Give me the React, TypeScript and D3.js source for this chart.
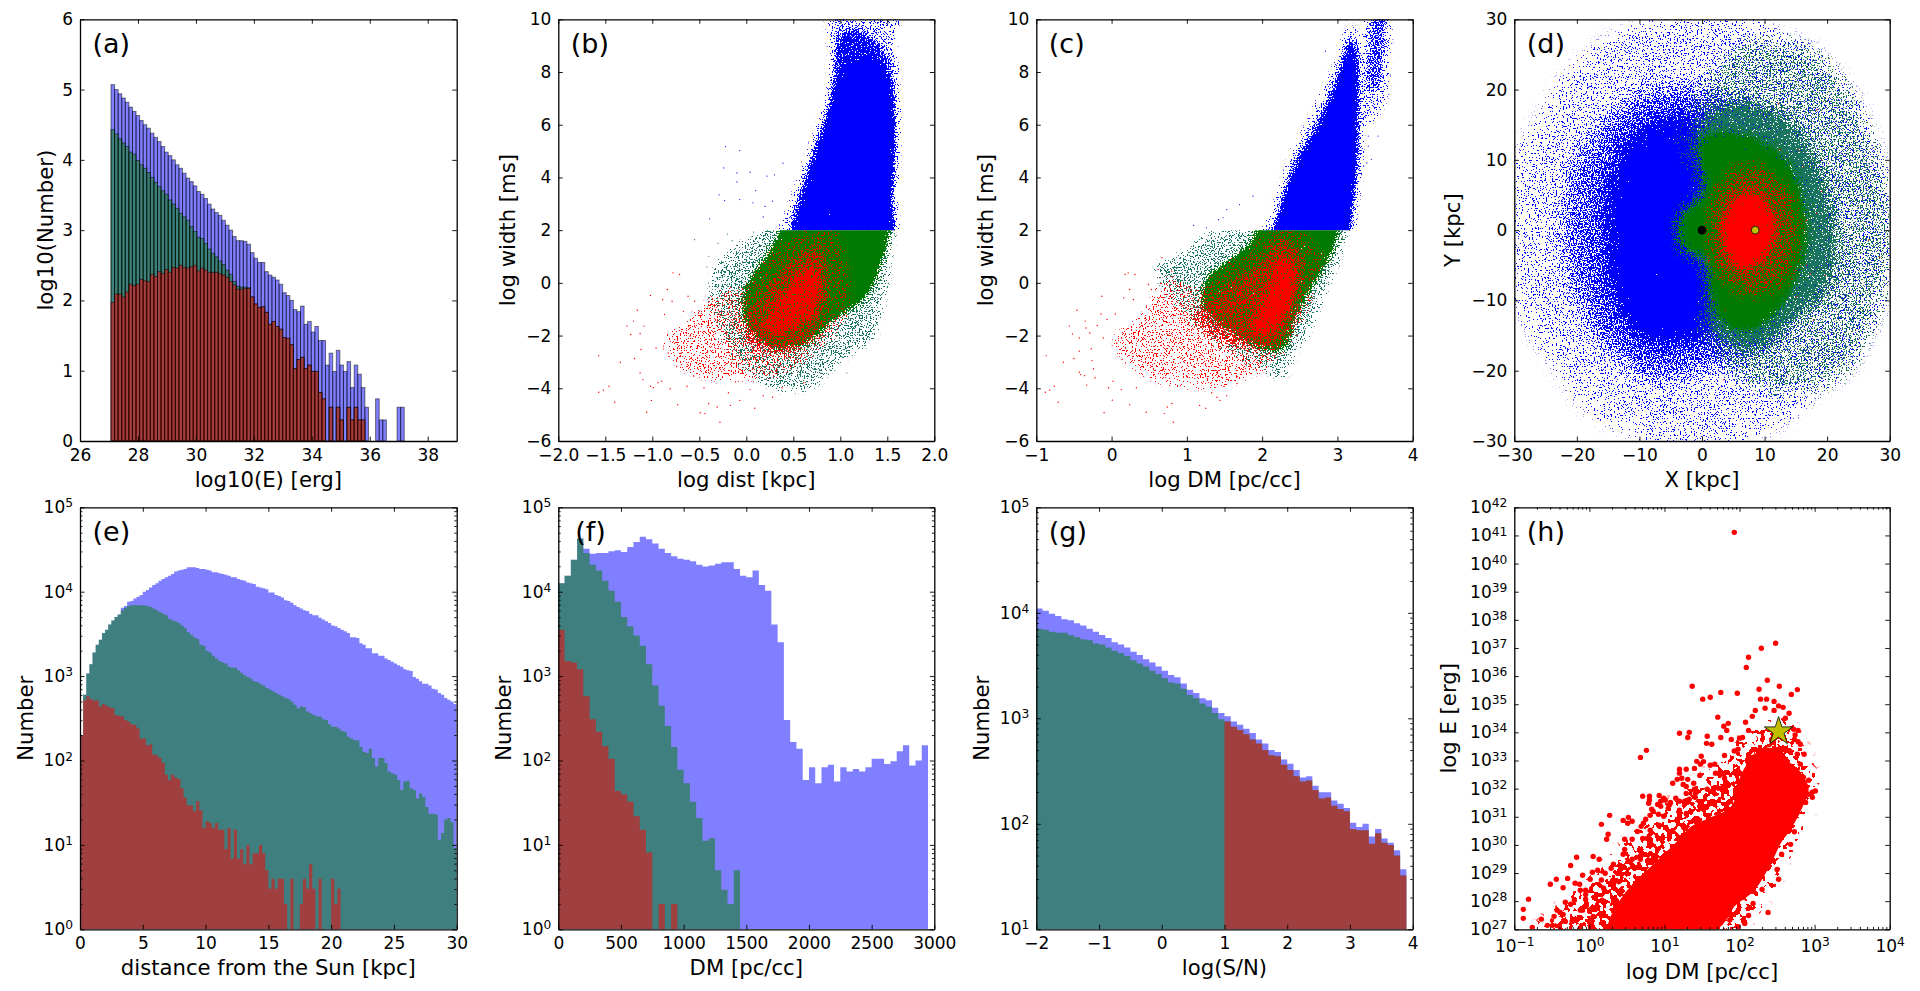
import React, { useEffect, useRef } from 'react';
import * as d3 from 'd3';

// ---- (a) log10(E) histogram, heights are log10(count)
const aStart = 27.07;
const aBin = 0.1234;
const aBlue = [5.07, 5.0, 4.94, 4.88, 4.82, 4.75, 4.69, 4.63, 4.56, 4.5, 4.45, 4.38, 4.32, 4.26, 4.19, 4.11, 4.06, 4.0, 3.93, 3.88, 3.81, 3.74, 3.69, 3.63, 3.55, 3.51, 3.45, 3.37, 3.3, 3.25, 3.21, 3.14, 3.07, 3.0, 2.91, 2.85, 2.85, 2.84, 2.8, 2.68, 2.6, 2.54, 2.54, 2.41, 2.36, 2.33, 2.29, 2.23, 2.11, 2.07, 2.0, 1.87, 1.84, 1.92, 1.66, 1.7, 1.55, 1.63, 1.43, 1.43, 1.08, 1.25, 0.99, 1.29, 1.08, 0.99, 1.13, 0.76, 1.08, 0.95, 0.76, 0.48, 0, 0, 0.6, 0.3, 0.3, 0, 0, 0, 0.48, 0.48];
const aGreen = [4.43, 4.37, 4.3, 4.24, 4.19, 4.11, 4.08, 3.99, 3.93, 3.88, 3.82, 3.75, 3.68, 3.62, 3.56, 3.51, 3.43, 3.37, 3.31, 3.24, 3.19, 3.14, 3.05, 2.98, 2.9, 2.88, 2.81, 2.73, 2.67, 2.62, 2.56, 2.51, 2.43, 2.37, 2.27, 2.2, 2.19, 2.19, 2.18];
const aRed = [1.97, 2.09, 2.09, 2.05, 2.12, 2.23, 2.21, 2.23, 2.3, 2.28, 2.27, 2.37, 2.34, 2.41, 2.38, 2.44, 2.4, 2.47, 2.46, 2.5, 2.47, 2.46, 2.48, 2.5, 2.42, 2.46, 2.43, 2.4, 2.4, 2.4, 2.38, 2.36, 2.33, 2.27, 2.22, 2.16, 2.16, 2.17, 2.17, 2.05, 1.95, 1.9, 1.91, 1.83, 1.66, 1.7, 1.63, 1.59, 1.47, 1.46, 1.37, 1.03, 1.16, 1.19, 1.03, 1.08, 0.99, 0.99, 0.69, 0.6, 0, 0.48, 0, 0.48, 0.3, 0, 0.48, 0.3, 0.48, 0.3, 0.3];

// ---- (e) distance histogram, log10(count)
const eBin = 0.25;
const eBlue = [2.3, 2.78, 3.03, 3.14, 3.28, 3.37, 3.43, 3.51, 3.55, 3.61, 3.66, 3.7, 3.73, 3.81, 3.83, 3.88, 3.89, 3.92, 3.94, 3.96, 4.0, 4.02, 4.05, 4.08, 4.1, 4.13, 4.15, 4.17, 4.19, 4.21, 4.24, 4.25, 4.26, 4.27, 4.29, 4.29, 4.29, 4.28, 4.27, 4.27, 4.26, 4.25, 4.23, 4.23, 4.22, 4.21, 4.2, 4.19, 4.17, 4.17, 4.15, 4.14, 4.13, 4.11, 4.1, 4.09, 4.06, 4.05, 4.04, 4.03, 3.99, 3.99, 3.96, 3.95, 3.93, 3.9, 3.89, 3.87, 3.84, 3.82, 3.8, 3.78, 3.77, 3.74, 3.72, 3.72, 3.69, 3.67, 3.65, 3.63, 3.6, 3.59, 3.57, 3.55, 3.53, 3.51, 3.46, 3.46, 3.45, 3.39, 3.37, 3.33, 3.33, 3.27, 3.27, 3.24, 3.24, 3.21, 3.19, 3.17, 3.15, 3.13, 3.11, 3.08, 3.07, 3.06, 2.99, 2.97, 2.94, 2.91, 2.91, 2.89, 2.85, 2.84, 2.8, 2.78, 2.74, 2.72, 2.7, 2.67];
const eGreen = [2.3, 2.78, 3.03, 3.14, 3.28, 3.37, 3.43, 3.51, 3.55, 3.61, 3.66, 3.7, 3.73, 3.78, 3.81, 3.83, 3.84, 3.84, 3.84, 3.84, 3.84, 3.83, 3.82, 3.8, 3.78, 3.76, 3.74, 3.72, 3.68, 3.66, 3.65, 3.63, 3.6, 3.57, 3.52, 3.49, 3.46, 3.44, 3.37, 3.36, 3.3, 3.28, 3.24, 3.21, 3.18, 3.16, 3.15, 3.11, 3.1, 3.1, 3.07, 3.04, 3.01, 2.99, 2.97, 2.94, 2.93, 2.91, 2.89, 2.86, 2.84, 2.82, 2.8, 2.78, 2.76, 2.74, 2.73, 2.7, 2.66, 2.62, 2.64, 2.63, 2.58, 2.56, 2.54, 2.52, 2.52, 2.49, 2.48, 2.43, 2.4, 2.4, 2.38, 2.35, 2.34, 2.28, 2.26, 2.24, 2.24, 2.16, 2.1, 2.09, 2.14, 2.03, 1.93, 2.03, 2.03, 1.97, 1.87, 1.85, 1.83, 1.77, 1.65, 1.75, 1.76, 1.67, 1.65, 1.55, 1.61, 1.57, 1.45, 1.37, 1.37, 1.36, 1.06, 1.14, 1.3, 1.32, 1.27, 0.96];
const eRed = [2.3, 2.71, 2.76, 2.73, 2.71, 2.71, 2.64, 2.67, 2.65, 2.63, 2.62, 2.54, 2.53, 2.52, 2.48, 2.46, 2.43, 2.42, 2.38, 2.26, 2.26, 2.18, 2.19, 2.07, 2.06, 2.03, 1.97, 1.83, 1.77, 1.83, 1.8, 1.78, 1.67, 1.56, 1.47, 1.47, 1.4, 1.52, 1.41, 1.2, 1.28, 1.26, 1.2, 1.26, 1.18, 1.18, 0.95, 1.2, 0.84, 1.18, 0.84, 0.95, 0.77, 1.0, 0.77, 0.9, 0.9, 1.0, 0.9, 0.7, 0.48, 0.6, 0.48, 0.6, 0.6, 0.3, 0, 0.6, 0, 0, 0.3, 0.6, 0.48, 0.77, 0.48, 0, 0.6, 0, 0, 0, 0.6, 0.3, 0.48];

// ---- (f) DM histogram, log10(count)
const fBin = 50;
const fBlue = [4.1, 4.19, 4.38, 4.63, 4.51, 4.45, 4.46, 4.46, 4.48, 4.49, 4.47, 4.53, 4.59, 4.65, 4.62, 4.57, 4.51, 4.46, 4.42, 4.39, 4.38, 4.36, 4.32, 4.3, 4.31, 4.33, 4.35, 4.35, 4.27, 4.19, 4.17, 4.25, 4.08, 4.01, 3.61, 3.4, 2.48, 2.22, 2.14, 1.77, 1.92, 1.73, 1.92, 1.95, 1.75, 1.92, 1.87, 1.9, 1.87, 1.92, 2.02, 2.02, 1.96, 1.99, 2.11, 2.18, 1.94, 2.0, 2.18];
const fGreen = [4.1, 4.19, 4.38, 4.63, 4.46, 4.32, 4.25, 4.13, 4.01, 3.88, 3.7, 3.59, 3.48, 3.36, 3.14, 2.89, 2.65, 2.41, 2.16, 1.89, 1.73, 1.51, 1.32, 1.05, 1.08, 0.7, 0.47, 0.3, 0.7];
const fRed = [3.55, 3.18, 3.16, 3.08, 2.76, 2.49, 2.34, 2.17, 2.02, 1.64, 1.6, 1.51, 1.34, 1.18, 0.91, 0, 0.3, 0, 0.3];

// ---- (g) S/N histogram, log10(count)
const gBin = 0.1;
const gBlue = [4.04, 4.02, 3.99, 3.97, 3.94, 3.93, 3.9, 3.88, 3.85, 3.82, 3.79, 3.76, 3.72, 3.7, 3.67, 3.63, 3.6, 3.56, 3.53, 3.49, 3.45, 3.41, 3.39, 3.33, 3.27, 3.24, 3.19, 3.17, 3.1, 3.05, 3.02, 2.97, 2.94, 2.9, 2.86, 2.8, 2.76, 2.7, 2.68, 2.61, 2.57, 2.51, 2.44, 2.45, 2.36, 2.3, 2.3, 2.22, 2.19, 2.15, 2.01, 1.97, 2.0, 1.88, 1.95, 1.86, 1.82, 1.75, 1.57];
const gGreen = [3.85, 3.84, 3.82, 3.81, 3.81, 3.79, 3.77, 3.75, 3.74, 3.71, 3.7, 3.67, 3.64, 3.62, 3.59, 3.55, 3.52, 3.49, 3.45, 3.42, 3.38, 3.34, 3.33, 3.28, 3.22, 3.19, 3.14, 3.11, 3.05, 2.99];
const gRed = [2.97, 2.92, 2.89, 2.85, 2.8, 2.76, 2.7, 2.65, 2.64, 2.56, 2.51, 2.45, 2.4, 2.41, 2.32, 2.24, 2.25, 2.17, 2.14, 2.12, 1.95, 1.94, 1.94, 1.81, 1.91, 1.82, 1.8, 1.7, 1.51];

// ---- scatter clouds: the dense parts are density outlines (data units),
// their grain is only a fill texture (svg filter); single dots are listed where they can be read
const bBlueOuter = [[0.34, 1.2], [0.45, 2.66], [0.55, 3.6], [0.66, 4.68], [0.77, 5.82], [0.87, 6.96], [0.93, 8.1], [0.93, 11], [1.56, 11], [1.57, 9.23], [1.58, 8.22], [1.59, 6.45], [1.585, 5.19], [1.57, 3.67], [1.535, 2.66], [1.51, 1.2]];
const bBlueMid = [[0.52, 1.2], [0.57, 3.16], [0.66, 4.3], [0.75, 5.31], [0.85, 6.32], [0.925, 7.21], [0.94, 8.22], [0.98, 9.36], [1.14, 9.61], [1.35, 9.23], [1.53, 8.22], [1.575, 6.96], [1.58, 5.19], [1.555, 3.67], [1.52, 2.66], [1.5, 1.2]];
const bBlueCore = [[0.535, 1.2], [0.59, 3.04], [0.68, 4.05], [0.77, 5.06], [0.87, 6.07], [0.93, 6.96], [0.995, 7.84], [1.17, 8.28], [1.35, 8.41], [1.475, 7.84], [1.545, 6.96], [1.565, 5.44], [1.535, 3.67], [1.5, 1.2]];
const bGreenOuter = [[0.27, 2.8], [1.53, 2.8], [1.51, 1.01], [1.46, -0.38], [1.39, -1.39], [1.35, -2.09], [1.14, -2.53], [0.89, -3.23], [0.68, -3.92], [0.36, -3.98], [0.11, -3.54], [-0.17, -2.53], [-0.35, -1.14], [-0.3, 0.63], [-0.07, 1.39], [0.145, 1.9]];
const bGreenCore = [[0.375, 2.8], [1.5, 2.8], [1.475, 1.39], [1.42, 0.76], [1.35, 0], [1.245, -0.57], [1.07, -1.01], [0.89, -1.45], [0.75, -1.96], [0.535, -2.4], [0.29, -2.4], [0.07, -1.9], [-0.03, -1.01], [0, -0.25], [0.145, 0.63], [0.27, 1.26], [0.36, 1.87]];
const bRedOuter = [[-0.85, -2.2], [-0.56, -1.3], [-0.28, -0.38], [0, -0.13], [0.36, 1.39], [0.89, 2], [1.07, 0.25], [1.03, -1.39], [0.71, -2.66], [0.36, -3.42], [0, -3.6], [-0.35, -3.6], [-0.7, -3.1]];
const bRedMid = [[0.18, -0.38], [0.535, 1.01], [0.78, 1.39], [0.855, 0.38], [0.82, -1.14], [0.64, -2.28], [0.29, -2.66], [0.04, -2.4], [-0.03, -1.39]];
const bRedCore = [[0.535, 0.25], [0.71, 0.63], [0.78, 0], [0.73, -1.01], [0.57, -1.52], [0.36, -1.9], [0.215, -1.77], [0.29, -1.01], [0.43, -0.38]];
const bRedDots = [[-1.57, -2.76], [-1.57, -4.15], [-1.52, -4.07], [-1.46, -3.92], [-1.4, -4.53], [-1.34, -3.01], [-1.27, -1.64], [-1.23, -1.96], [-1.2, -1.45], [-1.19, -2.87], [-1.16, -1.04], [-1.13, -1.92], [-1.12, -2.53], [-1.13, -3.42], [-1.1, -3.67], [-1.09, -1.64], [-1.06, -4.91], [-1.02, -0.48], [-1.02, -3.92], [-1.01, -4.46], [-0.99, -3.98], [-0.96, -2.47], [-0.94, -3.79], [-0.89, -0.63], [-0.9, -3.73], [-0.87, -1.2], [-0.88, -2.4], [-0.84, -0.25], [-0.83, -2.66], [-0.81, -4.02], [-0.79, -0.7], [-0.78, 0.38], [-0.74, -3.16], [-0.73, -4.62], [-0.71, 0.32], [-0.67, -1.08], [-0.69, -2.66], [-0.63, -3.92], [-0.62, -0.51], [-0.6, -2.02], [-0.56, -3.54], [-0.55, -0.7], [-0.49, -4.93], [-0.45, -3.98], [-0.44, -4.96], [-0.4, -4.58], [-0.31, -4.71], [-0.28, -5.29], [-0.17, -4.65], [-0.19, -4.17], [0.09, -4.76], [0.28, -4.34], [-0.07, -4.46], [0.04, -4.05], [0.18, -4.28], [0.38, -3.98], [0.61, -3.79]];
const bBlueDots = [[-0.22, 5.17], [-0.07, 5.02], [-0.24, 4.36], [-0.1, 4.17], [0.04, 4.2], [0.3, 4.1], [0.22, 4.05], [0.39, 4.54], [-0.29, 3.34], [-0.23, 3.12], [-0.1, 3.83], [-0.39, 2.43], [0.1, 3.5], [-0.07, 3.16], [0.07, 3.04], [0.2, 2.9], [0.28, 3.1], [0.18, 2.5]];
const bGreenDots = [[-0.55, 1.64], [-0.4, 1.01], [1.07, -3.42], [0.89, -3.29], [-0.3, 1.5], [-0.2, 1.85], [-0.15, 1.6], [0.05, 1.75], [-0.42, 0.6]];

const cBlueOuter = [[1.99, 1.2], [2.15, 2.66], [2.26, 3.54], [2.35, 4.3], [2.46, 5.19], [2.64, 6.07], [2.81, 7.21], [2.99, 8.22], [3.1, 9.23], [3.19, 9.68], [3.26, 9.11], [3.28, 7.59], [3.29, 5.69], [3.265, 4.05], [3.21, 2.91], [3.145, 2.15], [3.06, 1.2]];
const cBlueMid = [[2.17, 1.2], [2.26, 2.91], [2.37, 3.92], [2.5, 4.81], [2.68, 5.69], [2.86, 6.7], [3.03, 7.97], [3.19, 9.3], [3.25, 8.85], [3.27, 6.96], [3.265, 5.06], [3.23, 3.67], [3.18, 2.66], [3.06, 1.2]];
const cBlueCore = [[2.19, 1.2], [2.3, 3.04], [2.41, 3.92], [2.59, 4.93], [2.75, 5.82], [2.92, 6.83], [3.08, 7.97], [3.19, 8.98], [3.235, 8.6], [3.25, 6.32], [3.23, 4.43], [3.19, 3.16], [3.06, 1.2]];
const cLobeOuter = [[3.4, 9.87], [3.455, 11], [3.63, 11], [3.64, 8.22], [3.61, 6.96], [3.48, 6.32], [3.34, 6.07], [3.3, 6.96], [3.32, 8.22]];
const cLobeMid = [[3.455, 9.74], [3.5, 11], [3.62, 11], [3.61, 8.47], [3.54, 7.46], [3.41, 7.33], [3.41, 8.6]];
const cGreenOuter = [[1.84, 2.8], [3.08, 2.8], [3.03, 1.26], [2.9, 0.25], [2.77, -0.63], [2.59, -1.9], [2.37, -2.91], [2.28, -3.54], [1.97, -3.16], [1.53, -2.53], [1.09, -1.39], [0.73, -0.25], [0.62, 0.63], [1.0, 1.14], [1.35, 1.9], [1.57, 2]];
const cGreenCore = [[2.08, 2.8], [2.99, 2.8], [2.945, 1.39], [2.835, 0.76], [2.68, 0], [2.55, -0.63], [2.41, -1.39], [2.3, -2.4], [2.06, -2.53], [1.66, -1.9], [1.22, -0.89], [1.31, 0.25], [1.66, 1.01], [1.88, 1.62]];
const cRedOuter = [[0.05, -2.2], [0.42, -1.3], [0.73, 0.13], [1.17, -0.25], [1.53, 0.63], [1.97, 1.52], [2.41, 2], [2.77, 1.01], [2.68, -0.13], [2.41, -2.02], [2.19, -2.81], [1.75, -3.6], [1.09, -3.92], [0.47, -3.5]];
const cRedMid = [[1.09, -1.26], [1.53, -0.13], [1.97, 0.76], [2.24, 1.64], [2.5, 1.01], [2.5, -0.38], [2.33, -1.9], [2.1, -2.4], [1.66, -2.4], [1.26, -1.9]];
const cRedCore = [[2.1, -0.25], [2.24, 0.89], [2.41, 0.63], [2.37, -0.63], [2.24, -1.39], [2.06, -1.9], [1.88, -1.77], [1.97, -1.01]];
const cRedDots = [[-0.87, -2.76], [-0.88, -4.15], [-0.82, -4.07], [-0.76, -3.92], [-0.71, -4.53], [-0.64, -3.01], [-0.56, -1.64], [-0.52, -1.94], [-0.5, -2.87], [-0.46, -1.04], [-0.43, -2.09], [-0.43, -2.59], [-0.43, -3.39], [-0.41, -3.48], [-0.36, -3.52], [-0.35, -1.45], [-0.34, -1.71], [-0.33, -3.88], [-0.29, -1.9], [-0.27, -2.5], [-0.26, -2.95], [-0.24, -3.26], [-0.22, -3.6], [-0.19, -1.62], [-0.13, -0.51], [-0.14, -1.18], [-0.11, -2.09], [-0.1, -4.93], [-0.06, -1.39], [-0.04, -3.98], [0.01, -4.45], [0.02, -3.73], [0.05, -1.18], [0.07, -2.28], [0.13, -4.05], [0.16, -0.57], [0.18, 0.32], [0.22, 0.38], [0.24, -4.62], [0.24, -0.25], [0.31, 0.32], [0.29, -0.63], [0.33, -3.98], [0.46, -4.91], [0.7, -4.96], [0.8, -4.58], [0.82, -5.29], [0.74, -4.71], [1.17, -4.65], [1.25, -4.76], [1.44, -4.46], [1.4, -4.34], [1.53, -4.28], [1.33, -4.17], [0.49, -0.06], [0.53, -0.25], [0.62, 0.51], [0.67, 0.95], [0.8, 0.44]];
const cBlueDots = [[1.88, 3.29], [1.7, 2.97], [1.53, 2.78], [1.42, 2.4], [1.48, 2.47], [1.26, 2.09], [1.09, 2.18], [2.84, 8.79], [3.03, 9.99], [3.12, 9.99], [3.41, 5.57], [3.41, 5.19], [3.54, 5.57], [3.39, 4.55], [3.45, 4.68], [3.32, 4.11], [3.25, 2.97], [3.15, 2.05]];

const dOutline = [[-29.5, 5], [-28, 12], [-25, 16], [-22, 21], [-18, 24.5], [-14, 27], [-9, 28.5], [-3, 30], [5, 30], [12, 27.5], [18, 25], [23, 20], [25, 17], [28, 10], [30, 4], [30, -5], [28.5, -10], [26, -15], [23, -20], [19, -22], [14, -26], [10, -28], [3, -29.8], [-5, -30], [-12, -28], [-18, -25], [-23, -19], [-27, -14], [-29.5, -8], [-30, 0]];
const dBlueMid = [[-22, 0], [-20, 10], [-15, 16], [-8, 20], [0, 20], [10, 16], [14, 5], [14, -5], [12, -15], [0, -20], [-8, -21], [-15, -17], [-20, -10]];
const dBlueInner = [[-15, 0], [-14, 9], [-10, 14], [-4, 16], [2, 14], [3, 5], [3, -5], [2, -14], [-4, -16], [-10, -15], [-14, -9]];
const dBlueCore = [[-13, 0], [-12, 7], [-9, 11], [-4, 13], [0, 11], [1, 5], [1, -5], [0, -12], [-5, -13], [-9, -12], [-12, -6]];
const dGreenOuter = [[-2, 15], [3, 24], [10, 27], [18, 25], [23, 20], [28, 10], [30, 4], [30, -5], [28.5, -10], [26, -15], [23, -20], [19, -22], [12, -23], [5, -20], [0, -13], [2, -6], [-3, -2], [-3, 2], [0, 6], [-3, 12]];
const dGreenMid = [[0, 15], [5, 18], [13, 16], [18, 10], [21, 0], [20, -8], [14, -13], [8, -17], [2, -14], [1, -6], [-3, -2], [-3, 2], [1, 6]];
const dGreenCore = [[0.5, 5], [-3, 2], [-3, -2], [1, -4], [1.5, -9], [3.5, -13], [8, -14], [13, -10], [16, -4], [16.5, 1], [15, 7], [12, 11], [6, 13.5], [0, 13]];
const dRedOuter = [[8, 9], [13, 6], [15, 0], [13, -7], [8, -9], [3, -6], [1.5, 0], [3, 6]];
const dRedCore = [[7, 5], [10.5, 3], [11, -1], [9, -4], [6, -5], [4, -2], [4, 2]];
const dRedDots = [[12.2, 18], [18.3, 17.1], [15.4, 11.4], [19.1, 10], [12.5, 11.4], [16.7, 1.4], [19.1, 5.5], [18.3, 2.4], [28.4, -3.9], [26.6, -1.4], [17.3, -6.2], [19.7, -6.4], [16.7, -5], [23.9, -9], [17.8, -12.8], [15.1, -9.5], [11.9, -7.6], [3.4, -21.3], [3.7, -11.4], [1.8, -10], [14.6, 4.7], [16.2, 9]];
const dBlackDot = [0, 0];
const dYellowDot = [8.5, 0];

// ---- (h) [log10 DM, log10 E]
const hCore = [[0.27, 27.2], [0.5, 28.29], [0.94, 29.46], [1.15, 30.0], [1.38, 30.64], [1.6, 30.9], [1.91, 31.35], [2.05, 32.55], [2.31, 33.37], [2.54, 33.3], [2.63, 32.96], [2.78, 32.6], [2.9, 32.01], [2.83, 31.42], [2.67, 30.59], [2.54, 30.12], [2.41, 29.41], [2.23, 28.58], [2.1, 28.22], [1.92, 27.86], [1.74, 27.15], [1.39, 26.8], [0.27, 26.8]];
const hHalo = [[-0.66, 26.8], [-0.21, 27.86], [0.23, 29.05], [0.67, 30.23], [1.12, 31.3], [1.56, 32.25], [1.92, 33.08], [2.23, 33.91], [2.6, 34.2], [2.8, 33.2], [2.93, 32.01], [2.8, 31.06], [2.63, 30.12], [2.47, 29.17], [2.29, 28.34], [2.15, 27.75], [1.98, 27.15], [1.9, 26.8]];
const hDots = [[1.93, 41.11], [2.48, 37.17], [2.29, 36.99], [2.12, 36.67], [2.09, 36.31], [2.37, 35.85], [1.37, 35.64], [2.53, 35.64], [2.26, 35.53], [2.77, 35.52], [1.75, 35.42], [1.97, 35.39], [2.69, 35.35], [1.51, 35.18], [1.61, 35.25], [2.28, 35.18], [2.36, 35.18], [2.46, 35.1], [2.52, 34.94], [2.58, 34.89], [2.34, 34.86], [2.46, 34.78], [2.21, 34.78], [2.66, 34.68], [2.17, 34.57], [1.71, 34.54], [1.85, 34.32], [1.79, 34.22], [2.08, 34.36], [2.61, 34.5], [1.83, 34.07], [1.2, 33.97], [1.33, 34.0], [1.31, 33.82], [2.12, 34.07], [1.57, 33.86], [1.75, 33.82], [1.89, 33.75], [1.56, 33.61], [1.63, 33.58], [2.0, 33.79], [2.04, 33.82], [2.72, 34.11], [2.78, 34.07], [2.74, 33.91], [2.73, 33.75], [2.78, 33.67], [2.81, 33.58], [2.86, 33.22], [2.77, 33.22], [2.81, 32.87], [2.85, 32.41], [2.92, 32.3], [3.01, 31.92], [2.97, 31.87], [2.97, 31.69], [2.92, 31.8], [2.88, 31.51], [2.68, 30.02], [2.73, 30.47], [2.56, 29.67], [2.5, 29.13], [2.52, 28.78], [2.3, 28.42], [2.38, 27.6], [0.76, 33.36], [0.68, 33.11], [1.43, 32.97], [1.49, 33.15], [1.52, 32.96], [1.48, 32.87], [1.8, 33.18], [1.93, 33.34], [1.98, 33.4], [1.4, 32.72], [1.2, 32.69], [1.29, 32.69], [1.31, 32.33], [1.2, 32.55], [1.23, 32.37], [1.17, 32.33], [1.11, 32.19], [1.25, 32.15], [1.39, 32.19], [1.29, 32.08], [1.47, 32.47], [1.67, 32.87], [1.61, 32.83], [1.68, 32.55], [1.8, 32.37], [1.29, 31.83], [1.4, 31.98], [1.41, 31.83], [1.57, 31.98], [1.72, 32.01], [0.71, 31.73], [0.8, 31.73], [0.8, 31.6], [0.93, 31.76], [0.99, 31.66], [0.95, 31.55], [1.01, 31.59], [1.08, 31.51], [1.07, 31.44], [0.91, 31.44], [0.79, 31.48], [1.15, 31.66], [1.2, 31.55], [1.27, 31.55], [1.33, 31.62], [1.41, 31.69], [0.83, 31.27], [0.85, 31.19], [0.95, 31.37], [1.05, 31.3], [1.2, 31.23], [1.29, 31.12], [1.47, 31.37], [0.27, 31.05], [0.45, 30.87], [0.52, 30.98], [0.57, 30.84], [0.51, 30.77], [0.16, 30.73], [0.72, 30.77], [0.69, 30.66], [0.75, 30.91], [0.81, 31.05], [0.92, 31.09], [0.99, 31.02], [0.25, 30.38], [0.23, 30.2], [0.47, 30.2], [0.57, 30.2], [0.71, 30.23], [0.77, 30.23], [0.64, 30.48], [0.81, 30.52], [0.93, 30.7], [-0.17, 29.56], [0.05, 29.59], [0.13, 29.49], [-0.25, 29.27], [0.04, 29.03], [0.11, 29.1], [0.21, 28.99], [-0.52, 28.6], [-0.44, 28.78], [-0.29, 28.81], [-0.35, 28.48], [-0.19, 28.64], [-0.13, 28.6], [-0.09, 28.92], [-0.05, 28.39], [-0.12, 28.39], [0.01, 28.78], [-0.81, 28.07], [-0.88, 27.71], [-0.88, 27.39], [-0.64, 27.36], [-0.76, 27.07], [-0.56, 27.14], [-0.49, 27.14], [-0.47, 27.46], [-0.43, 27.68], [-0.39, 27.6], [-0.35, 27.53], [-0.32, 27.28], [-0.23, 27.28], [-0.19, 27.36], [-0.2, 28.03], [-0.25, 27.89], [-0.32, 27.96], [-0.12, 27.68], [-0.09, 27.68], [-0.05, 28.24], [-0.05, 28.07], [-0.04, 27.85], [0.05, 27.46], [0.19, 28.46], [0.16, 28.75], [0.32, 29.31], [0.29, 29.17], [0.47, 29.84], [0.45, 29.67], [0.57, 29.49], [0.68, 29.49], [0.31, 28.74], [0.17, 28.03], [0.39, 28.69], [1.98, 27.09], [2.07, 27.21], [2.12, 27.49], [2.18, 27.92], [1.87, 27.33], [1.63, 27.39]];
const hStar = [2.52, 34.03];

// tick lists
const aXTicks = [26, 28, 30, 32, 34, 36, 38];
const aYTicks = [0, 1, 2, 3, 4, 5, 6];
const bXTicks = [-2, -1.5, -1, -0.5, 0, 0.5, 1, 1.5, 2];
const widthTicks = [-6, -4, -2, 0, 2, 4, 6, 8, 10];
const cXTicks = [-1, 0, 1, 2, 3, 4];
const dTicks = [-30, -20, -10, 0, 10, 20, 30];
const eXTicks = [0, 5, 10, 15, 20, 25, 30];
const fXTicks = [0, 500, 1000, 1500, 2000, 2500, 3000];
const gXTicks = [-2, -1, 0, 1, 2, 3, 4];

const FONT = '"DejaVu Sans", sans-serif';
const TICK_SIZE = 17;
const LABEL_SIZE = 21.2;
const BLUE = '#0000ff';
const GREEN = '#007a00';
const TEAL = '#1a7560';
const RED = '#ff0000';
const BAR_COLORS: Record<string, string> = { blue: '#0000ff', green: '#008000', red: '#ff0000' };

const pow10 = (v: number) => Math.pow(10, v);

// grain texture: density outline blurred, then thresholded against noise
let grainCount = 0;
function grainFilter(svg: any, color: string, blur: number, freq = 0.71) {
  grainCount += 1;
  const id = `grain-${grainCount}`;
  const f = svg.append('filter').attr('id', id).attr('filterUnits', 'userSpaceOnUse')
    .attr('x', 0).attr('y', 0).attr('width', 1920).attr('height', 991)
    .attr('color-interpolation-filters', 'sRGB');
  f.append('feGaussianBlur').attr('in', 'SourceAlpha').attr('stdDeviation', blur).attr('result', 'density');
  f.append('feTurbulence').attr('type', 'fractalNoise').attr('baseFrequency', freq).attr('numOctaves', 2)
    .attr('seed', grainCount).attr('result', 'noise');
  f.append('feComposite').attr('in', 'density').attr('in2', 'noise').attr('operator', 'arithmetic')
    .attr('k1', 0).attr('k2', 1.4).attr('k3', 2.4).attr('k4', -1.2).attr('result', 'sum');
  f.append('feComponentTransfer').attr('in', 'sum').attr('result', 'spots')
    .append('feFuncA').attr('type', 'discrete').attr('tableValues', '0 1');
  f.append('feComponentTransfer').attr('in', 'density').attr('result', 'mask')
    .append('feFuncA').attr('type', 'linear').attr('slope', 25);
  f.append('feComposite').attr('in', 'spots').attr('in2', 'mask').attr('operator', 'in').attr('result', 'cut');
  f.append('feFlood').attr('flood-color', color).attr('result', 'fill');
  f.append('feComposite').attr('in', 'fill').attr('in2', 'cut').attr('operator', 'in').attr('result', 'out');
  f.append('feGaussianBlur').attr('in', 'out').attr('stdDeviation', 0.35);
  return id;
}

function cloud(svg: any, parent: any, x: any, y: any, color: string, blur: number, layers: any[], freq?: number) {
  const line = d3.line<number[]>().x(d => x(d[0])).y(d => y(d[1])).curve(d3.curveCatmullRomClosed.alpha(0.5));
  const g = parent.append('g').attr('filter', `url(#${grainFilter(svg, color, blur, freq)})`);
  layers.forEach(([pts, alpha]) => {
    g.append('path').attr('d', line(pts)).attr('fill', '#000').attr('fill-opacity', alpha);
  });
}

function makePanel(svg: any, id: string, box: number[]) {
  const [left, right, top, bottom] = box;
  svg.append('clipPath').attr('id', `clip-${id}`).append('rect')
    .attr('x', left).attr('y', top).attr('width', right - left).attr('height', bottom - top);
  return svg.append('g').attr('clip-path', `url(#clip-${id})`);
}

function styleAxis(g: any) {
  g.selectAll('text').attr('font-family', FONT).attr('font-size', TICK_SIZE).attr('fill', '#000');
  g.selectAll('line').attr('stroke', '#000').attr('stroke-width', 0.9);
  g.select('.domain').attr('stroke', '#000').attr('stroke-width', 1.3);
}

function superLabel(g: any) {
  g.selectAll('text').each(function (this: any, d: number) {
    const exp = Math.round(Math.log10(d)).toString().replace('-', '\u2212');
    const t = d3.select(this);
    t.text('10');
    t.append('tspan').attr('dy', '-0.48em').attr('font-size', TICK_SIZE * 0.72).text(exp);
  });
}

function drawAxes(svg: any, box: number[], x: any, y: any, o: any) {
  const [left, right, top, bottom] = box;
  const tick = 4.5;
  const fmtNum = (d: any) => (o.xFixed ? d3.format('.1f')(d) : String(d)).replace('-', '\u2212');
  const fmtY = (d: any) => String(d).replace('-', '\u2212');

  const xb = svg.append('g').attr('transform', `translate(0,${bottom})`)
    .call(d3.axisBottom(x).tickValues(o.xTicks).tickSizeInner(-tick).tickSizeOuter(0).tickPadding(o.xLog ? 10.5 : 8).tickFormat(fmtNum));
  const xt = svg.append('g').attr('transform', `translate(0,${top})`)
    .call(d3.axisTop(x).tickValues(o.xTicks).tickSizeInner(-tick).tickSizeOuter(0).tickFormat(() => ''));
  const yl = svg.append('g').attr('transform', `translate(${left},0)`)
    .call(d3.axisLeft(y).tickValues(o.yTicks).tickSizeInner(-tick).tickSizeOuter(0).tickPadding(7).tickFormat(fmtY));
  const yr = svg.append('g').attr('transform', `translate(${right},0)`)
    .call(d3.axisRight(y).tickValues(o.yTicks).tickSizeInner(-tick).tickSizeOuter(0).tickFormat(() => ''));
  [xb, xt, yl, yr].forEach(styleAxis);
  if (o.xLog) superLabel(xb);
  if (o.yLog) superLabel(yl);

  // minor ticks on log axes
  if (o.xMinor) {
    [[d3.axisBottom, bottom], [d3.axisTop, top]].forEach(([ax, pos]: any) => {
      const g = svg.append('g').attr('transform', `translate(0,${pos})`)
        .call(ax(x).tickValues(o.xMinor).tickSizeInner(-2.4).tickSizeOuter(0).tickFormat(() => ''));
      g.select('.domain').remove();
      styleAxis(g);
    });
  }
  if (o.yMinor) {
    [[d3.axisLeft, left], [d3.axisRight, right]].forEach(([ax, pos]: any) => {
      const g = svg.append('g').attr('transform', `translate(${pos},0)`)
        .call(ax(y).tickValues(o.yMinor).tickSizeInner(-2.4).tickSizeOuter(0).tickFormat(() => ''));
      g.select('.domain').remove();
      styleAxis(g);
    });
  }

  svg.append('text').attr('x', (left + right) / 2).attr('y', bottom + (o.xLabelDy ?? 45.7))
    .attr('text-anchor', 'middle').attr('font-family', FONT).attr('font-size', LABEL_SIZE).text(o.xLabel);
  svg.append('text').attr('transform', `translate(${o.yLabelX},${(top + bottom) / 2}) rotate(-90)`)
    .attr('text-anchor', 'middle').attr('font-family', FONT).attr('font-size', LABEL_SIZE).text(o.yLabel);
  svg.append('text').attr('x', left + (o.tagDx ?? 12.5)).attr('y', top + (o.tagDy ?? 33.5))
    .attr('font-family', FONT).attr('font-size', 27).text(o.tag);
}

// filled step histogram: no seams between bins, like the original
function stepHist(g: any, x: any, y: any, start: number, bin: number, logs: number[], color: string) {
  const rows = logs.map((v, i) => [start + i * bin, v]);
  rows.push([start + logs.length * bin, logs[logs.length - 1]]);
  const area = d3.area<number[]>()
    .x(d => x(d[0]))
    .y0(y.range()[0])
    .y1(d => y(Math.max(pow10(d[1]), y.domain()[0])))
    .curve(d3.curveStepAfter);
  g.append('path').attr('d', area(rows)).attr('fill', BAR_COLORS[color]).attr('fill-opacity', 0.5);
}

function dots(g: any, x: any, y: any, pts: number[][], color: string, r = 0.7) {
  g.append('g').selectAll('circle').data(pts).enter().append('circle')
    .attr('cx', (d: number[]) => x(d[0])).attr('cy', (d: number[]) => y(d[1]))
    .attr('r', r).attr('fill', color);
}

const minorsFor = (lo: number, hi: number) => {
  const out: number[] = [];
  for (let e = lo; e < hi; e++) for (let m = 2; m <= 9; m++) out.push(m * pow10(e));
  return out;
};
const decades = (lo: number, hi: number) => d3.range(lo, hi + 1).map(pow10);

export default function App() {
  const ref = useRef<SVGSVGElement>(null);

  useEffect(() => {
    if (!ref.current) return;
    const svg = d3.select(ref.current);
    svg.selectAll('*').remove();
    grainCount = 0;

    const topY = [19.3, 441];
    const botY = [507.3, 929.3];
    const colsX = [[80, 456.7], [558.3, 934.3], [1036.3, 1412.7], [1514.3, 1889.7]];
    const box = (col: number, row: number[]) => [colsX[col][0], colsX[col][1], row[0], row[1]];

    // (a)
    {
      const b = box(0, topY);
      const x = d3.scaleLinear().domain([26, 39]).range([b[0], b[1]]);
      const y = d3.scaleLinear().domain([0, 6]).range([b[3], b[2]]);
      const g = makePanel(svg, 'a', b);
      // below the red bars the green ones have the same height
      const aGreenFull = aGreen.concat(aRed.slice(aGreen.length));
      [[aBlue, 'blue'], [aGreenFull, 'green'], [aRed, 'red']].forEach(([vals, c]: any) => {
        g.append('g').selectAll('rect').data(vals).enter().append('rect')
          .attr('x', (_: number, i: number) => x(aStart + i * aBin))
          .attr('width', x(aStart + aBin) - x(aStart))
          .attr('y', (d: number) => y(d))
          .attr('height', (d: number) => y(0) - y(d))
          .attr('fill', BAR_COLORS[c]).attr('fill-opacity', 0.5)
          .attr('stroke', '#000').attr('stroke-opacity', (d: number) => (d > 0 ? 0.5 : 0)).attr('stroke-width', 1);
      });
      drawAxes(svg, b, x, y, { xTicks: aXTicks, yTicks: aYTicks, xLabel: 'log10(E) [erg]', yLabel: 'log10(Number)', yLabelX: 53, tag: '(a)' });
    }

    const scatterPanel = (id: string, col: number, xDom: number[], xTicks: number[], opts: any, groups: any[]) => {
      const b = box(col, topY);
      const x = d3.scaleLinear().domain(xDom).range([b[0], b[1]]);
      const y = d3.scaleLinear().domain([-6, 10]).range([b[3], b[2]]);
      const g = makePanel(svg, id, b);
      // blue sits above log width = 2, green and red below it
      svg.append('clipPath').attr('id', `up-${id}`).append('rect').attr('x', b[0]).attr('y', b[2]).attr('width', b[1] - b[0]).attr('height', y(2) - b[2]);
      svg.append('clipPath').attr('id', `lo-${id}`).append('rect').attr('x', b[0]).attr('y', y(2)).attr('width', b[1] - b[0]).attr('height', b[3] - y(2));
      const up = g.append('g').attr('clip-path', `url(#up-${id})`);
      const lo = g.append('g').attr('clip-path', `url(#lo-${id})`);
      groups.forEach(([color, layers]) => cloud(svg, color === BLUE ? up : lo, x, y, color, 3.5, layers));
      dots(g, x, y, opts.blueDots, BLUE, 0.6);
      if (opts.greenDots) dots(g, x, y, opts.greenDots, TEAL, 0.6);
      dots(g, x, y, opts.redDots, RED, 0.7);
      drawAxes(svg, b, x, y, { xTicks, yTicks: widthTicks, ...opts });
    };

    scatterPanel('b', 1, [-2, 2], bXTicks,
      { xFixed: true, xLabel: 'log dist [kpc]', yLabel: 'log width [ms]', yLabelX: 515, tag: '(b)', blueDots: bBlueDots, greenDots: bGreenDots, redDots: bRedDots },
      [[BLUE, [[bBlueOuter, 0.2], [bBlueMid, 0.5], [bBlueCore, 1]]],
       [TEAL, [[bGreenOuter, 0.24]]],
       [GREEN, [[bGreenCore, 0.95]]],
       [RED, [[bRedOuter, 0.16], [bRedMid, 0.26], [bRedCore, 0.42]]]]);

    scatterPanel('c', 2, [-1, 4], cXTicks,
      { xLabel: 'log DM [pc/cc]', yLabel: 'log width [ms]', yLabelX: 993, tag: '(c)', blueDots: cBlueDots, redDots: cRedDots },
      [[BLUE, [[cBlueOuter, 0.2], [cBlueMid, 0.6], [cBlueCore, 1], [cLobeOuter, 0.18], [cLobeMid, 0.3]]],
       [TEAL, [[cGreenOuter, 0.24]]],
       [GREEN, [[cGreenCore, 0.95]]],
       [RED, [[cRedOuter, 0.16], [cRedMid, 0.28], [cRedCore, 0.55]]]]);

    // (d)
    {
      const b = box(3, topY);
      const x = d3.scaleLinear().domain([-30, 30]).range([b[0], b[1]]);
      const y = d3.scaleLinear().domain([-30, 30]).range([b[3], b[2]]);
      const g = makePanel(svg, 'd', b);
      cloud(svg, g, x, y, BLUE, 9, [[dOutline, 0.14], [dBlueMid, 0.3], [dBlueInner, 0.7], [dBlueCore, 1]]);
      cloud(svg, g, x, y, TEAL, 7, [[dGreenOuter, 0.24], [dGreenMid, 0.5]]);
      cloud(svg, g, x, y, GREEN, 6, [[dGreenCore, 1]]);
      cloud(svg, g, x, y, RED, 6, [[dRedOuter, 0.3], [dRedCore, 1]]);
      dots(g, x, y, dRedDots, RED, 0.7);
      g.append('circle').attr('cx', x(dBlackDot[0])).attr('cy', y(dBlackDot[1])).attr('r', 4.3).attr('fill', '#000');
      g.append('circle').attr('cx', x(dYellowDot[0])).attr('cy', y(dYellowDot[1])).attr('r', 3.9).attr('fill', '#bfbf00').attr('stroke', '#000').attr('stroke-width', 0.8);
      drawAxes(svg, b, x, y, { xTicks: dTicks, yTicks: dTicks, xLabel: 'X [kpc]', yLabel: 'Y [kpc]', yLabelX: 1460, tag: '(d)' });
    }

    const histPanel = (id: string, col: number, xDom: number[], xTicks: number[], yMin: number, layers: any[], opts: any) => {
      const b = box(col, botY);
      const x = d3.scaleLinear().domain(xDom).range([b[0], b[1]]);
      const y = d3.scaleLog().domain([pow10(yMin), 1e5]).range([b[3], b[2]]);
      const g = makePanel(svg, id, b);
      layers.forEach(([start, bin, vals, color]) => stepHist(g, x, y, start, bin, vals, color));
      drawAxes(svg, b, x, y, { xTicks, yTicks: decades(yMin, 5), yMinor: minorsFor(yMin, 5), yLog: true, ...opts });
    };

    histPanel('e', 0, [0, 30], eXTicks, 0,
      [[0, eBin, eBlue, 'blue'], [0, eBin, eGreen, 'green'], [0, eBin, eRed, 'red']],
      { xLabel: 'distance from the Sun [kpc]', yLabel: 'Number', yLabelX: 33, tag: '(e)' });
    histPanel('f', 1, [0, 3000], fXTicks, 0,
      [[0, fBin, fBlue, 'blue'], [0, fBin, fGreen, 'green'], [0, fBin, fRed, 'red']],
      { xLabel: 'DM [pc/cc]', yLabel: 'Number', yLabelX: 511, tag: '(f)', tagDx: 17 });
    histPanel('g', 2, [-2, 4], gXTicks, 1,
      [[-2, gBin, gBlue, 'blue'], [-2, gBin, gGreen.concat(gRed), 'green'], [1, gBin, gRed, 'red']],
      { xLabel: 'log(S/N)', yLabel: 'Number', yLabelX: 989, tag: '(g)' });

    // (h)
    {
      const b = box(3, botY);
      const x = d3.scaleLog().domain([0.1, 1e4]).range([b[0], b[1]]);
      const y = d3.scaleLog().domain([1e27, 1e42]).range([b[3], b[2]]);
      const g = makePanel(svg, 'h', b);
      const toVal = (d: number[]) => [pow10(d[0]), pow10(d[1])];
      const line = d3.line<number[]>().x(d => x(pow10(d[0]))).y(d => y(pow10(d[1]))).curve(d3.curveCatmullRomClosed.alpha(0.5));
      cloud(svg, g, (v: number) => x(pow10(v)), (v: number) => y(pow10(v)), RED, 7, [[hHalo, 0.42]], 0.17);
      g.append('path').attr('d', line(hCore)).attr('fill', RED).attr('stroke', RED).attr('stroke-width', 3).attr('stroke-linejoin', 'round');
      dots(g, x, y, hDots.map(toVal), RED, 2.7);
      const [sx, sy] = toVal(hStar);
      g.append('path').attr('transform', `translate(${x(sx)},${y(sy)})`)
        .attr('d', d3.symbol(d3.symbolStar, 250)())
        .attr('fill', '#bfbf00').attr('stroke', '#000').attr('stroke-width', 0.8);
      drawAxes(svg, b, x, y, {
        xTicks: decades(-1, 4), yTicks: decades(27, 42), xLog: true, yLog: true, xMinor: minorsFor(-1, 4),
        xLabel: 'log DM [pc/cc]', xLabelDy: 49.5, yLabel: 'log E [erg]', yLabelX: 1456, tag: '(h)',
      });
    }
  }, []);

  return (
    <svg ref={ref} width={1920} height={991} viewBox="0 0 1920 991"
      style={{ position: 'absolute', left: 0, top: 0, display: 'block', background: '#fff' }} />
  );
}
